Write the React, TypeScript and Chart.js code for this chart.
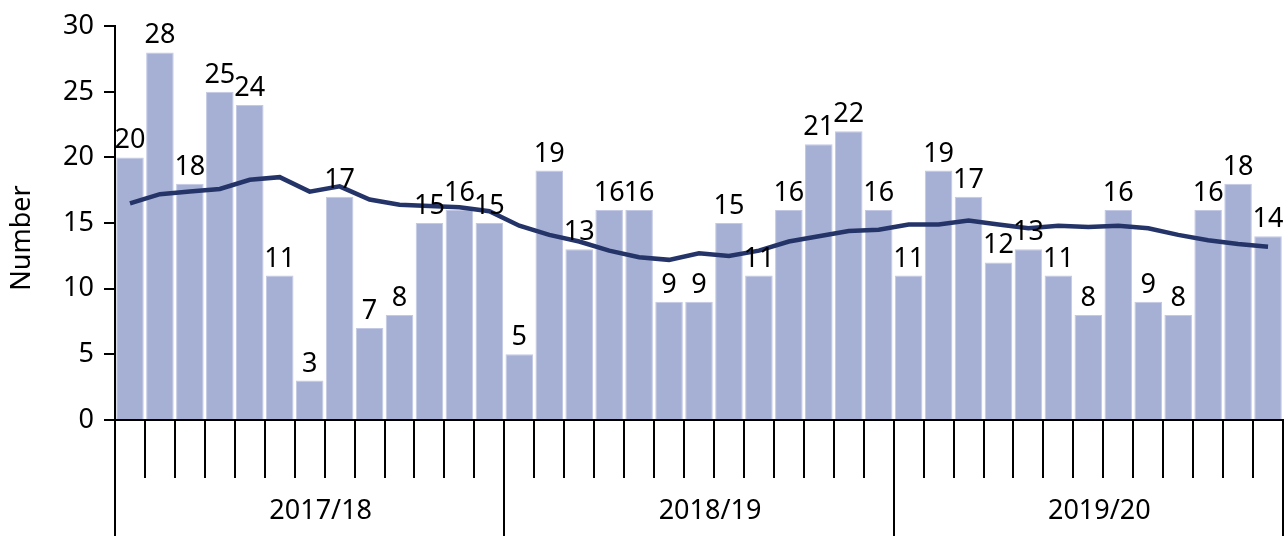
import React, { useEffect, useRef } from "react";
import { Chart, registerables } from "chart.js";

Chart.register(...registerables);

const years = ["2017/18", "2018/19", "2019/20"];
const periodsPerYear = 13;
const categories: string[] = years.flatMap((y) =>
  Array.from({ length: periodsPerYear }, (_, i) => `${y} P${i + 1}`)
);

const counts = [
  20, 28, 18, 25, 24, 11, 3, 17, 7, 8, 15, 16, 15,
  5, 19, 13, 16, 16, 9, 9, 15, 11, 16, 21, 22, 16,
  11, 19, 17, 12, 13, 11, 8, 16, 9, 8, 16, 18, 14,
];

const rollingAverage = [
  16.5, 17.2, 17.4, 17.6, 18.3, 18.5, 17.4, 17.8, 16.8, 16.4, 16.3, 16.2, 15.9,
  14.8, 14.1, 13.6, 12.9, 12.4, 12.2, 12.7, 12.5, 12.9, 13.6, 14.0, 14.4, 14.5,
  14.9, 14.9, 15.2, 14.9, 14.6, 14.8, 14.7, 14.8, 14.6, 14.1, 13.7, 13.4, 13.2,
];

const yTicks = [0, 5, 10, 15, 20, 25, 30];
const yTitle = "Number";

const FONT = '"Noto Sans", "Open Sans", sans-serif';
const FONT_SIZE = 27;
const BAR_COLOR = "#a6b0d4";
const LINE_COLOR = "#243468";

const overlayPlugin = {
  id: "overlay",
  afterDatasetsDraw(chart: any) {
    const { ctx, chartArea } = chart;
    const x = chart.scales.x;
    const h = chart.height;
    const step = x.getPixelForValue(1) - x.getPixelForValue(0);
    ctx.save();
    const barIndex = chart.data.datasets.findIndex((d: any) => d.type === "bar");
    const meta = chart.getDatasetMeta(barIndex);
    ctx.fillStyle = "#000";
    ctx.font = `${FONT_SIZE}px ${FONT}`;
    ctx.textAlign = "center";
    ctx.textBaseline = "alphabetic";
    meta.data.forEach((el: any, i: number) => {
      ctx.fillText(String(counts[i]), el.x, el.y - 9);
    });
    ctx.strokeStyle = "#000";
    ctx.lineWidth = 2;
    for (let g = 0; g <= years.length; g++) {
      const idx = g * periodsPerYear;
      const px =
        idx < categories.length
          ? x.getPixelForValue(idx) - step / 2
          : x.getPixelForValue(categories.length - 1) + step / 2;
      ctx.beginPath();
      ctx.moveTo(Math.round(px), chartArea.bottom);
      ctx.lineTo(Math.round(px), h);
      ctx.stroke();
    }
    ctx.textBaseline = "middle";
    years.forEach((y, g) => {
      const a = x.getPixelForValue(g * periodsPerYear);
      const b = x.getPixelForValue(g * periodsPerYear + periodsPerYear - 1);
      ctx.fillText(y, (a + b) / 2 + 11, 511);
    });
    ctx.translate(22, 238);
    ctx.rotate(-Math.PI / 2);
    ctx.fillText(yTitle, 0, 0);
    ctx.restore();
  },
};

export default function App() {
  const ref = useRef<HTMLCanvasElement | null>(null);
  useEffect(() => {
    if (!ref.current) return;
    const chart = new Chart(ref.current, {
      type: "bar",
      data: {
        labels: categories,
        datasets: [
          {
            type: "line",
            label: "Rolling average",
            data: rollingAverage,
            borderColor: LINE_COLOR,
            borderWidth: 4.5,
            pointRadius: 0,
            tension: 0,
            fill: false,
            order: 0,
          } as any,
          {
            type: "bar",
            label: "Number",
            data: counts,
            backgroundColor: BAR_COLOR,
            borderColor: "#c3c9e4",
            borderWidth: 1,
            categoryPercentage: 0.92,
            barPercentage: 1,
            order: 1,
          } as any,
        ],
      },
      options: {
        animation: false,
        responsive: true,
        maintainAspectRatio: false,
        layout: { padding: { top: 25, right: 1, left: 0, bottom: 0 } },
        plugins: {
          legend: { display: false },
          tooltip: { enabled: false },
        },
        scales: {
          x: {
            type: "category",
            offset: true,
            grid: {
              display: true,
              drawOnChartArea: false,
              drawTicks: true,
              tickLength: 58,
              color: "#000",
              lineWidth: 2,
              offset: true,
            },
            border: { display: true, color: "#000", width: 2 },
            ticks: { display: false },
            afterFit: (s: any) => {
              s.height = 116;
            },
          },
          y: {
            min: 0,
            max: 30,
            afterBuildTicks: (s: any) => {
              s.ticks = yTicks.map((v) => ({ value: v }));
            },
            grid: {
              display: true,
              drawOnChartArea: false,
              drawTicks: true,
              tickLength: 11,
              color: "#000",
              lineWidth: 2,
            },
            border: { display: true, color: "#000", width: 2 },
            ticks: {
              color: "#000",
              padding: 10,
              font: { family: FONT, size: FONT_SIZE },
            },
            afterFit: (s: any) => {
              s.width = 115;
            },
          },
        },
      },
      plugins: [overlayPlugin],
    });
    return () => chart.destroy();
  }, []);
  return (
    <div style={{ position: "fixed", left: 0, top: 0, width: 1284, height: 536 }}>
      <canvas ref={ref} />
    </div>
  );
}
